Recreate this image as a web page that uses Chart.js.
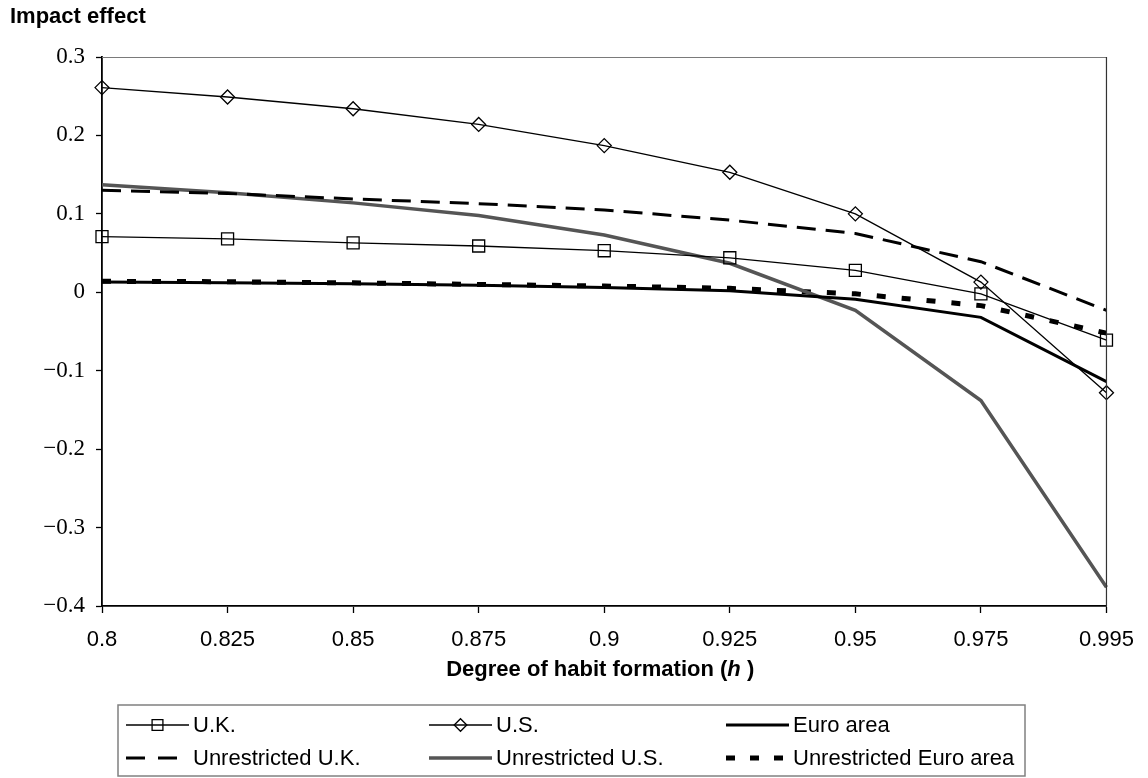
<!DOCTYPE html>
<html>
<head>
<meta charset="utf-8">
<script src="https://cdn.jsdelivr.net/npm/chart.js@4/dist/chart.umd.min.js"></script>
<style>
  html, body { margin: 0; padding: 0; background: #ffffff; }
  #wrap { width: 1148px; height: 778px; position: relative; }
</style>
</head>
<body>
<div id="wrap"><canvas id="c" width="1148" height="778"></canvas></div>
<script>
// Degree of habit formation (h)
const habitLevels = ['0.8', '0.825', '0.85', '0.875', '0.9', '0.925', '0.95', '0.975', '0.995'];

// Impact effect by economy
const ukImpact    = [0.071, 0.068, 0.063, 0.059, 0.053, 0.044, 0.028, -0.002, -0.061];
const usImpact    = [0.261, 0.249, 0.234, 0.214, 0.187, 0.153, 0.100, 0.013, -0.128];
const euroImpact  = [0.013, 0.012, 0.011, 0.009, 0.006, 0.002, -0.009, -0.032, -0.114];
const unrUkImpact   = [0.130, 0.126, 0.119, 0.113, 0.105, 0.092, 0.075, 0.039, -0.023];
const unrUsImpact   = [0.137, 0.127, 0.114, 0.098, 0.073, 0.037, -0.023, -0.138, -0.376];
const unrEuroImpact = [0.014, 0.0135, 0.012, 0.010, 0.008, 0.005, -0.002, -0.017, -0.052];

const seriesNames = ['U.K.', 'U.S.', 'Euro area', 'Unrestricted U.K.', 'Unrestricted U.S.', 'Unrestricted Euro area'];

const SANS = '"Liberation Sans", Arial, sans-serif';
const SERIF = '"Liberation Serif", "Times New Roman", serif';

const base = { fill: false, tension: 0, clip: false, pointHitRadius: 0 };

const datasets = [
  Object.assign({}, base, {
    label: seriesNames[0], data: ukImpact,
    borderColor: '#000', borderWidth: 1.3,
    pointStyle: 'rect', pointRadius: 8.5,
    pointBorderColor: '#000', pointBorderWidth: 1.3, pointBackgroundColor: 'rgba(0,0,0,0)'
  }),
  Object.assign({}, base, {
    label: seriesNames[1], data: usImpact,
    borderColor: '#000', borderWidth: 1.3,
    pointStyle: 'rectRot', pointRadius: 7,
    pointBorderColor: '#000', pointBorderWidth: 1.3, pointBackgroundColor: 'rgba(0,0,0,0)'
  }),
  Object.assign({}, base, {
    label: seriesNames[2], data: euroImpact,
    borderColor: '#000', borderWidth: 3, pointRadius: 0
  }),
  Object.assign({}, base, {
    label: seriesNames[3], data: unrUkImpact,
    borderColor: '#000', borderWidth: 3, borderDash: [19, 10], pointRadius: 0,
    legendDash: [19, 13], legendLen: 52
  }),
  Object.assign({}, base, {
    label: seriesNames[4], data: unrUsImpact,
    borderColor: '#555', borderWidth: 3.5, pointRadius: 0
  }),
  Object.assign({}, base, {
    label: seriesNames[5], data: unrEuroImpact,
    borderColor: '#000', borderWidth: 5, borderDash: [9, 16], borderCapStyle: 'butt', pointRadius: 0,
    legendDash: [9, 15], legendLen: 58
  })
];

function formatTick(v) {
  const r = Math.round(v * 10) / 10;
  if (r === 0) return '0';
  const s = Math.abs(r).toFixed(1);
  return r < 0 ? '\u2212' + s : s;
}

// Frame, titles and the boxed legend
const decorations = {
  id: 'decorations',
  afterDraw(chart) {
    const ctx = chart.ctx;
    const a = chart.chartArea;
    ctx.save();

    // top and right edges of the plot frame
    ctx.lineWidth = 1.2;
    ctx.strokeStyle = '#7a7a7a';
    ctx.beginPath();
    ctx.moveTo(a.left, a.top + 0.5);
    ctx.lineTo(a.right, a.top + 0.5);
    ctx.stroke();
    ctx.strokeStyle = '#333';
    ctx.beginPath();
    ctx.moveTo(a.right, a.top);
    ctx.lineTo(a.right, a.bottom);
    ctx.stroke();

    // y axis title
    ctx.fillStyle = '#000';
    ctx.textBaseline = 'middle';
    ctx.textAlign = 'left';
    ctx.font = 'bold 22px ' + SANS;
    ctx.fillText('Impact effect', 10, 17);

    // x axis title with italic h
    const p1 = 'Degree of habit formation (';
    const p2 = 'h';
    const p3 = ' )';
    const fB = 'bold 22px ' + SANS;
    const fBI = 'italic bold 22px ' + SANS;
    ctx.font = fB;
    const w1 = ctx.measureText(p1).width;
    const w3 = ctx.measureText(p3).width;
    ctx.font = fBI;
    const w2 = ctx.measureText(p2).width;
    const cx = (a.left + a.right) / 2 - 4;
    let x = cx - (w1 + w2 + w3) / 2;
    const ty = 670;
    ctx.font = fB; ctx.fillText(p1, x, ty); x += w1;
    ctx.font = fBI; ctx.fillText(p2, x, ty); x += w2;
    ctx.font = fB; ctx.fillText(p3, x, ty);

    // legend box
    const L = { left: 118, top: 705, right: 1025, bottom: 776 };
    ctx.lineWidth = 1.5;
    ctx.strokeStyle = '#808080';
    ctx.strokeRect(L.left, L.top, L.right - L.left, L.bottom - L.top);

    const rows = [725, 758];
    const cols = [193, 496, 793];
    ctx.font = '22px ' + SANS;
    ctx.fillStyle = '#000';

    chart.data.datasets.forEach((ds, i) => {
      const col = i % 3, row = Math.floor(i / 3);
      const tx = cols[col], y = rows[row];
      const x0 = tx - 67;
      const x1 = x0 + (ds.legendLen || 63);
      ctx.save();
      ctx.strokeStyle = ds.borderColor;
      ctx.lineWidth = ds.borderWidth;
      ctx.lineCap = 'butt';
      ctx.setLineDash(ds.legendDash || ds.borderDash || []);
      ctx.beginPath();
      ctx.moveTo(x0, y);
      ctx.lineTo(x1, y);
      ctx.stroke();
      ctx.setLineDash([]);
      if (ds.pointRadius > 0) {
        const mx = (x0 + x1) / 2;
        ctx.lineWidth = ds.pointBorderWidth;
        ctx.strokeStyle = ds.pointBorderColor;
        ctx.fillStyle = 'rgba(0,0,0,0)';
        Chart.helpers.drawPoint(ctx, {
          pointStyle: ds.pointStyle, radius: ds.pointRadius * 0.9, rotation: 0, borderWidth: ds.pointBorderWidth
        }, mx, y);
      }
      ctx.restore();
      ctx.fillStyle = '#000';
      ctx.textAlign = 'left';
      ctx.textBaseline = 'middle';
      ctx.fillText(ds.label, tx, y + 1);
    });

    ctx.restore();
  }
};

new Chart(document.getElementById('c'), {
  type: 'line',
  data: { labels: habitLevels, datasets: datasets },
  options: {
    responsive: false,
    animation: false,
    devicePixelRatio: 1,
    layout: { padding: { top: 57, right: 38, left: 0, bottom: 122 } },
    plugins: { legend: { display: false }, tooltip: { enabled: false }, title: { display: false } },
    elements: { line: { borderJoinStyle: 'miter' } },
    scales: {
      x: {
        type: 'category',
        offset: false,
        grid: { display: true, drawOnChartArea: false, drawTicks: true, tickLength: 7, tickColor: '#000', tickWidth: 1.3, offset: false },
        border: { display: true, color: '#000', width: 1.8 },
        ticks: { color: '#000', font: { family: SANS, size: 22 }, padding: 14, maxRotation: 0, autoSkip: false },
        afterFit(scale) { scale.height = 50; }
      },
      y: {
        min: -0.4,
        max: 0.3,
        grid: { display: true, drawOnChartArea: false, drawTicks: true, tickLength: 6, tickColor: '#000', tickWidth: 1.3 },
        border: { display: true, color: '#000', width: 1.8 },
        ticks: { stepSize: 0.1, color: '#000', font: { family: SERIF, size: 23 }, padding: 11, callback: (v) => formatTick(v) },
        afterFit(scale) { scale.width = 102; }
      }
    }
  },
  plugins: [decorations]
});
</script>
</body>
</html>
